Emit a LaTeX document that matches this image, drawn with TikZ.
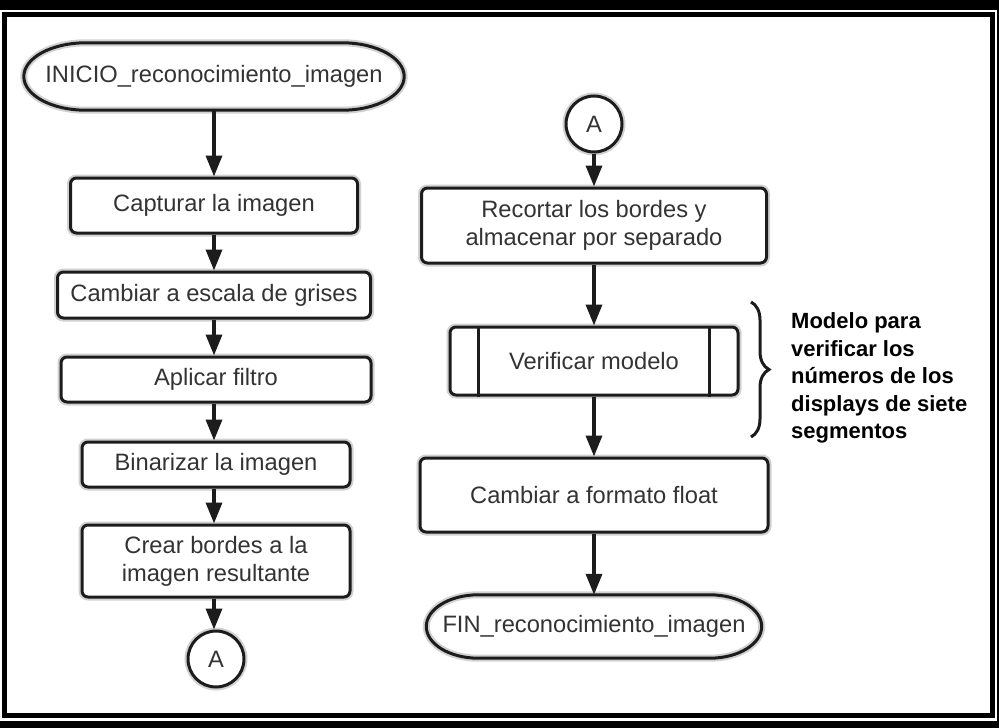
\documentclass[tikz,border=0pt]{standalone}
\usepackage{fontspec}
\setmainfont{Liberation Sans}
\usetikzlibrary{arrows.meta,calc,decorations.pathreplacing}
\definecolor{ink}{HTML}{1C1C1C}
\definecolor{txt}{HTML}{333333}
\newcommand\boxfont{\fontsize{23.7}{28}\selectfont}
\newcommand\notefont{\bfseries\fontsize{22}{27.5}\selectfont}
% stadium outline around a terminal node (#1 = node, #2 = end radius)
\newcommand\stadium[2]{%
  \draw[termline] let \p1=($(#1.north)-(#1.south)$), \n1={0.5*abs(\y1)} in
    ($(#1.north west)+(#2,0)$) -- ($(#1.north east)+(-#2,0)$)
    arc[start angle=90, end angle=-90, x radius=#2pt, y radius=\n1]
    -- ($(#1.south west)+(#2,0)$)
    arc[start angle=270, end angle=90, x radius=#2pt, y radius=\n1] -- cycle;}
\begin{document}
\begin{tikzpicture}[x=1pt,y=-1pt,
  halo/.style={preaction={draw=black!18, line width=7pt}},
  box/.style={draw=ink, line width=3pt, rounded corners=6pt, fill=white,
    text=txt, align=center, font=\boxfont, inner sep=0pt, halo},
  term/.style={shape=rectangle, inner sep=0pt, text=txt, font=\boxfont},
  termline/.style={draw=ink, line width=3pt, halo},
  conn/.style={circle, draw=ink, line width=3pt, fill=white, minimum size=56pt,
    inner sep=0pt, text=txt, font=\boxfont, halo},
  arr/.style={draw=ink, line width=3.5pt, -{Triangle[width=16pt,length=21pt]}},
  bar/.style={draw=ink, line width=3pt}]
\useasboundingbox (0,0) rectangle (999,728);
\fill[white] (0,0) rectangle (999,728);
% page frame
\fill[black] (0,0) rectangle (999,10);
\fill[black] (0,721) rectangle (999,728);
\fill[black] (996.5,0) rectangle (999,728);
\draw[black, line width=5pt] (4.5,14.5) rectangle (992,715);

% left column
\node[term, minimum width=380, minimum height=67] (ini) at (214,76.5) {INICIO\_reconocimiento\_imagen};
\stadium{ini}{62}
\node[box, minimum width=287, minimum height=55] (cap) at (214,205.5) {Capturar la imagen};
\node[box, minimum width=313, minimum height=46] (gris) at (214,295) {Cambiar a escala de grises};
\node[box, minimum width=310, minimum height=45] (filt) at (216,379.5) {Aplicar filtro};
\node[box, minimum width=268, minimum height=45] (bin) at (216,464.5) {Binarizar la imagen};
\node[box, minimum width=268, minimum height=72] (bord) at (216,561) {Crear bordes a la\\imagen resultante};
\node[conn] (ca) at (216,659) {A};

% right column
\node[conn] (cb) at (594,124) {A};
\node[box, minimum width=345, minimum height=75] (rec) at (594,225.5) {Recortar los bordes y\\almacenar por separado};
\node[box, minimum width=288, minimum height=68] (ver) at (594,361) {Verificar modelo};
\draw[bar] ($(ver.north west)+(30,0)$) -- ($(ver.south west)+(30,0)$);
\draw[bar] ($(ver.north east)+(-30,0)$) -- ($(ver.south east)+(-30,0)$);
\node[box, minimum width=348, minimum height=74] (flt) at (594,495) {Cambiar a formato float};
\node[term, minimum width=335, minimum height=63] (fin) at (594,626.5) {FIN\_reconocimiento\_imagen};
\stadium{fin}{52}

% connectors
\draw[arr] (ini.south -| cap.north) -- (cap.north);
\draw[arr] (cap.south) -- (gris.north);
\draw[arr] (gris.south) -- (gris.south |- filt.north);
\draw[arr] (gris.south |- filt.south) -- (gris.south |- bin.north);
\draw[arr] (gris.south |- bin.south) -- (gris.south |- bord.north);
\draw[arr] (gris.south |- bord.south) -- (gris.south |- ca.north);
\draw[arr] (cb) -- (rec);
\draw[arr] (rec) -- (ver);
\draw[arr] (ver) -- (flt);
\draw[arr] (flt) -- (fin);

% annotation
\coordinate (bt) at (751,302);
\coordinate (bb) at (751,437);
\draw[ink, line width=3pt, decorate, decoration={brace, amplitude=18pt}] (bt) -- (bb);
\node[anchor=west, align=left, font=\notefont, text=black, inner sep=0pt] (note) at (791,378)
  {Modelo para\\verificar los\\números de los\\displays de siete\\segmentos};
\end{tikzpicture}
\end{document}
